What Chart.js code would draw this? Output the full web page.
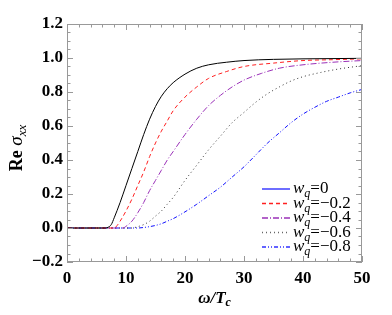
<!DOCTYPE html>
<html>
<head>
<meta charset="utf-8">
<script src="https://cdn.jsdelivr.net/npm/chart.js@4.4.0/dist/chart.umd.min.js"></script>
<style>
  html, body { margin: 0; padding: 0; background: #fff; }
</style>
</head>
<body>
<canvas id="chart" width="392" height="315"></canvas>
<script>
// omega / T_c sample points and Re sigma_xx for each w_q
var omegaW0 = [0, 6.5, 7, 7.5, 8, 9, 10, 11, 12, 13, 14, 15, 16, 17, 18, 20, 22, 24, 27, 30, 35, 40, 50];
var sigmaW0 = [0, 0, 0.005, 0.02, 0.06, 0.15, 0.25, 0.35, 0.45, 0.55, 0.64, 0.715, 0.775, 0.82, 0.855, 0.905, 0.94, 0.96, 0.975, 0.985, 0.992, 0.995, 0.998];

var omegaW2 = [0, 8, 8.5, 9, 10, 11, 12, 13, 14, 15, 16, 17, 18, 20, 22, 24, 27, 30, 35, 40, 45, 50];
var sigmaW2 = [0, 0, 0.015, 0.04, 0.1, 0.17, 0.25, 0.33, 0.42, 0.5, 0.57, 0.63, 0.69, 0.77, 0.83, 0.88, 0.92, 0.95, 0.97, 0.985, 0.99, 0.995];

var omegaW4 = [0, 9.5, 10, 11, 12, 13, 14, 15, 16, 17, 18, 20, 22, 24, 26, 28, 30, 33, 36, 40, 45, 50];
var sigmaW4 = [0, 0, 0.01, 0.04, 0.09, 0.15, 0.22, 0.28, 0.34, 0.4, 0.45, 0.55, 0.64, 0.72, 0.78, 0.83, 0.87, 0.91, 0.94, 0.96, 0.975, 0.985];

var omegaW6 = [0, 11, 12, 13, 14, 15, 16, 17, 18, 20, 22, 24, 26, 28, 30, 32, 34, 36, 38, 40, 43, 46, 50];
var sigmaW6 = [0, 0, 0.008, 0.02, 0.04, 0.07, 0.1, 0.14, 0.18, 0.28, 0.37, 0.46, 0.54, 0.62, 0.68, 0.74, 0.79, 0.83, 0.865, 0.89, 0.915, 0.935, 0.955];

var omegaW8 = [0, 12, 13, 14, 15, 16, 17, 18, 20, 22, 24, 26, 28, 30, 32, 34, 36, 38, 40, 42, 44, 46, 48, 50];
var sigmaW8 = [0, 0, 0.003, 0.008, 0.015, 0.025, 0.04, 0.055, 0.095, 0.14, 0.19, 0.24, 0.3, 0.36, 0.43, 0.5, 0.56, 0.62, 0.67, 0.71, 0.745, 0.77, 0.795, 0.815];

var legendLabels = ['0', '\u22120.2', '\u22120.4', '\u22120.6', '\u22120.8'];
var xTicks = [0, 10, 20, 30, 40, 50];
var yTicks = [-0.2, 0, 0.2, 0.4, 0.6, 0.8, 1.0, 1.2];

function pts(xs, ys) {
    return xs.map(function (x, i) { return { x: x, y: ys[i] }; });
}

var serif = '"Liberation Serif", serif';

var styles = [
    { color: '#000000', dash: [], legend: '#3030ff' },
    { color: '#ff2020', dash: [4, 3], legend: '#ff2020' },
    { color: '#9a30b8', dash: [6, 2, 1, 2], legend: '#9a30b8' },
    { color: '#333333', dash: [1, 3], legend: '#666666' },
    { color: '#1010ff', dash: [4, 2, 1, 2, 1, 2], legend: '#3030ff' }
];

var series = [pts(omegaW0, sigmaW0), pts(omegaW2, sigmaW2), pts(omegaW4, sigmaW4), pts(omegaW6, sigmaW6), pts(omegaW8, sigmaW8)];

var datasets = series.map(function (d, i) {
    return {
        label: 'w_q=' + legendLabels[i],
        data: d,
        borderColor: styles[i].color,
        borderDash: styles[i].dash,
        borderWidth: 1,
        pointRadius: 0,
        fill: false,
        cubicInterpolationMode: 'monotone'
    };
});

// frame, inward ticks, axis titles and legend
var decor = {
    id: 'decor',
    afterDraw: function (chart) {
        var ctx = chart.ctx, a = chart.chartArea;
        var xs = chart.scales.x, ys = chart.scales.y;
        ctx.save();
        ctx.strokeStyle = '#999';
        ctx.lineWidth = 1;
        ctx.setLineDash([]);
        ctx.strokeRect(a.left + 0.5, a.top + 0.5, a.right - a.left - 1, a.bottom - a.top - 1);
        ctx.beginPath();
        for (var v = 0; v <= 50; v += 2) {
            var px = Math.round(xs.getPixelForValue(v)) + 0.5;
            var len = (v % 10 === 0) ? 6 : 3.5;
            ctx.moveTo(px, a.bottom); ctx.lineTo(px, a.bottom - len);
            ctx.moveTo(px, a.top); ctx.lineTo(px, a.top + len);
        }
        for (var k = -4; k <= 24; k++) {
            var py = Math.round(ys.getPixelForValue(k * 0.05)) + 0.5;
            var l2 = (k % 4 === 0) ? 6 : 3.5;
            ctx.moveTo(a.left, py); ctx.lineTo(a.left + l2, py);
            ctx.moveTo(a.right, py); ctx.lineTo(a.right - l2, py);
        }
        ctx.stroke();

        // y title
        ctx.fillStyle = '#000';
        ctx.textBaseline = 'alphabetic';
        ctx.save();
        ctx.translate(22, 148);
        ctx.rotate(-Math.PI / 2);
        var f1 = 'bold 18px ' + serif, f2 = 'italic 19px ' + serif, f3 = 'italic 13px ' + serif;
        ctx.font = f1; var w1 = ctx.measureText('Re ').width;
        ctx.font = f2; var w2 = ctx.measureText('\u03c3').width;
        ctx.font = f3; var w3 = ctx.measureText('xx').width;
        var sx = -(w1 + w2 + w3) / 2;
        ctx.font = f1; ctx.fillText('Re ', sx, 0);
        ctx.font = f2; ctx.fillText('\u03c3', sx + w1, 0);
        ctx.font = f3; ctx.fillText('xx', sx + w1 + w2, 4);
        ctx.restore();

        // x title
        var g1 = 'bold italic 17px ' + serif, g2 = 'bold italic 12px ' + serif;
        ctx.font = g1; var u1 = ctx.measureText('\u03c9/T').width;
        ctx.font = g2; var u2 = ctx.measureText('c').width;
        var cx = (a.left + a.right) / 2 - (u1 + u2) / 2;
        ctx.font = g1; ctx.fillText('\u03c9/T', cx, 303);
        ctx.font = g2; ctx.fillText('c', cx + u1, 306);

        // legend
        for (var i = 0; i < legendLabels.length; i++) {
            var ly = 189 + i * 14.5;
            ctx.strokeStyle = styles[i].legend;
            ctx.lineWidth = 1.4;
            ctx.setLineDash(styles[i].dash);
            ctx.beginPath();
            ctx.moveTo(262, ly); ctx.lineTo(290, ly);
            ctx.stroke();
            ctx.setLineDash([]);
            var tx = 293, by = ly + 4;
            ctx.font = 'italic 17px ' + serif; ctx.fillText('w', tx, by);
            tx += ctx.measureText('w').width;
            ctx.font = 'italic 12px ' + serif; ctx.fillText('q', tx, by + 4);
            tx += ctx.measureText('q').width;
            ctx.font = '17px ' + serif; ctx.fillText('=' + legendLabels[i], tx, by);
        }
        ctx.restore();
    }
};

new Chart(document.getElementById('chart').getContext('2d'), {
    type: 'line',
    data: { datasets: datasets },
    options: {
        responsive: false,
        animation: false,
        layout: { padding: { left: 0, top: 24, right: 30, bottom: 0 } },
        plugins: { legend: { display: false }, tooltip: { enabled: false } },
        scales: {
            x: {
                type: 'linear', min: 0, max: 50,
                afterBuildTicks: function (s) { s.ticks = xTicks.map(function (v) { return { value: v }; }); },
                afterFit: function (s) { s.height = 53; },
                grid: { display: false, drawTicks: false },
                border: { display: false },
                ticks: { color: '#000', padding: 6, maxRotation: 0, font: { family: serif, size: 17, weight: 'bold' } }
            },
            y: {
                type: 'linear', min: -0.2, max: 1.2,
                afterBuildTicks: function (s) { s.ticks = yTicks.map(function (v) { return { value: v }; }); },
                afterFit: function (s) { s.width = 67; },
                grid: { display: false, drawTicks: false },
                border: { display: false },
                ticks: {
                    color: '#000', padding: 4, font: { family: serif, size: 17, weight: 'bold' },
                    callback: function (v) { return Number(v).toFixed(1).replace('-', '\u2212'); }
                }
            }
        }
    },
    plugins: [decor]
});
</script>
</body>
</html>
